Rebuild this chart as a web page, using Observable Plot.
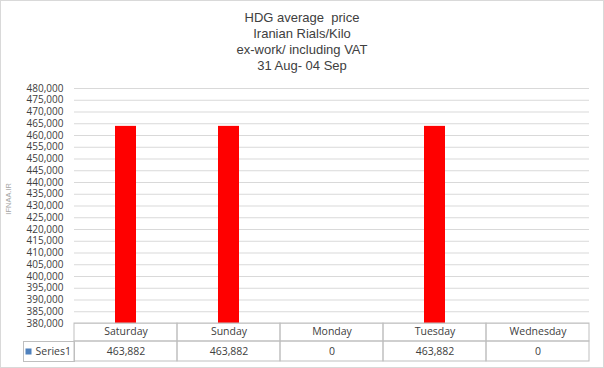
<!DOCTYPE html>
<html><head><meta charset="utf-8">
<script src="https://cdn.jsdelivr.net/npm/d3@7"></script>
<script src="https://cdn.jsdelivr.net/npm/@observablehq/plot@0.6"></script>
<style>
body{margin:0;background:#fff;}
#chart{position:relative;width:604px;height:368px;overflow:hidden;background:#fff;}
#border{position:absolute;left:0;top:0;width:602px;height:366px;border:1px solid #d9d9d9;pointer-events:none;}
#title{height:76px;text-align:center;font-family:"Liberation Sans",Arial,sans-serif;font-size:13px;line-height:16px;color:#404040;padding-top:10px;box-sizing:border-box;}
#wm{position:absolute;left:4px;top:183px;writing-mode:vertical-rl;transform:rotate(180deg);font-family:"Liberation Sans",Arial,sans-serif;font-size:7.5px;color:#a6a6a6;}
#plot svg{display:block;}
</style>
</head><body>
<div id="chart">
  <div id="title"></div>
  <div id="plot"></div>
  <div id="wm">IFNAA.IR</div>
  <div id="border"></div>
</div>
<script>
const titleLines = ["HDG average\u00a0 price", "Iranian Rials/Kilo", "ex-work/ including VAT", "31 Aug- 04 Sep"];
const days = ["Saturday", "Sunday", "Monday", "Tuesday", "Wednesday"];
const prices = [463882, 463882, 0, 463882, 0];
const seriesName = "Series1";
const yTicks = [380000, 385000, 390000, 395000, 400000, 405000, 410000, 415000, 420000, 425000,
  430000, 435000, 440000, 445000, 450000, 455000, 460000, 465000, 470000, 475000, 480000];

document.getElementById("title").innerHTML = titleLines.map(t => `<div>${t}</div>`).join("");

const data = days.map((d, i) => ({day: d, price: prices[i]}));
const fmt = d3.format(",");
const lineColor = "#bfbfbf";

const chart = Plot.plot({
  width: 604,
  height: 292,
  marginLeft: 74,
  marginRight: 15,
  marginTop: 12,
  marginBottom: 45,
  style: {fontFamily: "'Open Sans', sans-serif", fontSize: "10.5px", color: "#404040", background: "transparent", overflow: "visible"},
  x: {domain: days, padding: 0, axis: null},
  y: {domain: [380000, 480000], axis: null},
  marks: [
    Plot.gridY(yTicks, {stroke: "#d9d9d9", strokeOpacity: 1}),
    Plot.axisY(yTicks, {tickSize: 0, tickPadding: 11, tickFormat: fmt, fill: "#404040", fontSize: 10, label: null}),
    Plot.barY(data, {x: "day", y: "price", fill: "#ff0000", insetLeft: 41, insetRight: 41, clip: true}),
    Plot.cell(data, {x: "day", fill: "none", stroke: lineColor, insetTop: 235, insetBottom: -18}),
    Plot.cell(data, {x: "day", fill: "none", stroke: lineColor, insetTop: 253, insetBottom: -38}),
    Plot.frame({stroke: lineColor, insetTop: 253, insetBottom: -38, insetLeft: -51, insetRight: 515}),
    Plot.text(data, {x: "day", text: "day", frameAnchor: "bottom", lineAnchor: "middle", dy: 8, fill: "#404040"}),
    Plot.text(data, {x: "day", text: d => fmt(d.price), frameAnchor: "bottom", lineAnchor: "middle", dy: 28, fill: "#404040"}),
    Plot.dot([seriesName], {frameAnchor: "bottom-left", dx: -46, dy: 28, symbol: "square", r: 3.4, fill: "#4f81bd", stroke: "none"}),
    Plot.text([seriesName], {text: d => d, frameAnchor: "bottom-left", lineAnchor: "middle", textAnchor: "start", dx: -39, dy: 28, fill: "#404040"})
  ]
});
document.getElementById("plot").appendChild(chart);
</script>
</body></html>
